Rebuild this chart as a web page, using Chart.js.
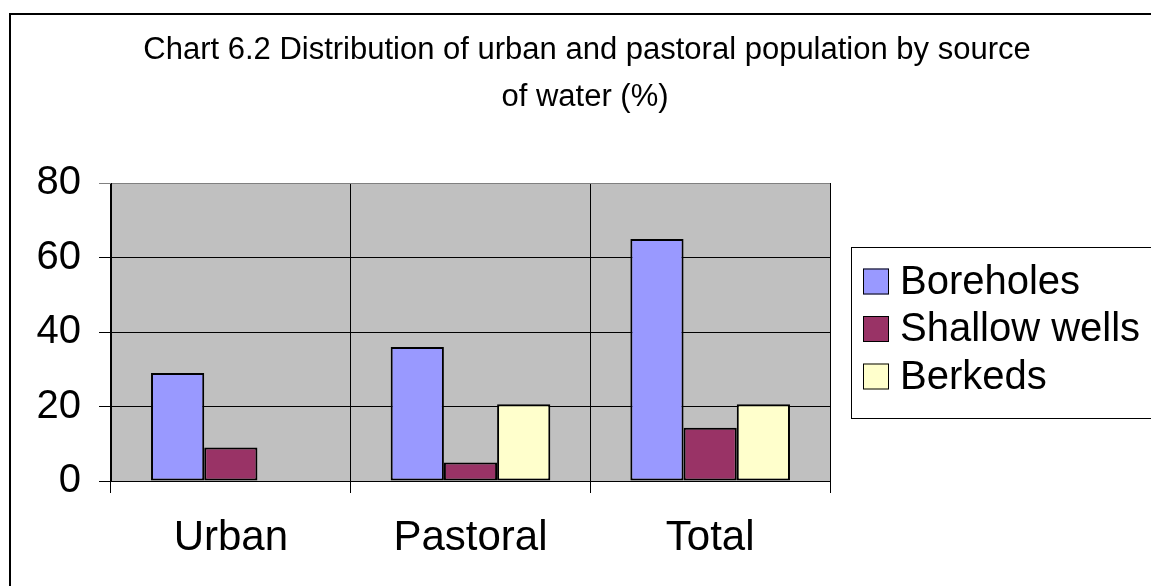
<!DOCTYPE html>
<html>
<head>
<meta charset="utf-8">
<script src="https://cdn.jsdelivr.net/npm/chart.js@4"></script>
<style>
html,body{margin:0;padding:0;background:#fff;}
#wrap{width:1151px;height:586px;position:relative;}
</style>
</head>
<body>
<div id="wrap"><canvas id="c" width="1151" height="586"></canvas></div>
<script>
const titleLines = ['Chart 6.2 Distribution of urban and pastoral population by source', 'of water (%)'];
const categories = ['Urban', 'Pastoral', 'Total'];
const seriesNames = ['Boreholes', 'Shallow wells', 'Berkeds'];
const boreholes = [29, 36, 65];
const shallowWells = [9, 5, 14.3];
const berkeds = [null, 20.6, 20.6];
const yTicks = [0, 20, 40, 60, 80];

const FONT = '"Liberation Sans", Arial, sans-serif';
const colors = ['#9999FF', '#993366', '#FFFFCC'];

const bgPlugin = {
  id: 'bg',
  beforeDraw(chart) {
    const ctx = chart.ctx, a = chart.chartArea;
    ctx.save();
    ctx.fillStyle = '#fff';
    ctx.fillRect(0, 0, chart.width, chart.height);
    ctx.fillStyle = '#C0C0C0';
    ctx.fillRect(a.left, a.top, a.right - a.left, a.bottom - a.top);
    ctx.strokeStyle = '#000';
    ctx.lineWidth = 2;
    ctx.strokeRect(10, 14, chart.width + 20, chart.height + 20);
    ctx.restore();
  },
  afterDraw(chart) {
    const ctx = chart.ctx;
    ctx.save();
    ctx.fillStyle = '#000';
    ctx.font = '31px ' + FONT;
    ctx.textAlign = 'center';
    ctx.textBaseline = 'middle';
    ctx.fillText(titleLines[0], 587, 50);
    ctx.fillText(titleLines[1], 585, 97);
    const lx = 851, ly = 247, lw = 320, lh = 171;
    ctx.strokeStyle = '#000';
    ctx.lineWidth = 1;
    ctx.strokeRect(lx + 0.5, ly + 0.5, lw, lh);
    ctx.font = '40px ' + FONT;
    ctx.textAlign = 'left';
    const rows = [281.5, 329, 376.5];
    chart.data.datasets.forEach((ds, i) => {
      const cy = rows[i];
      ctx.fillStyle = ds.backgroundColor;
      ctx.fillRect(863, cy - 13, 26, 26);
      ctx.strokeStyle = '#000';
      ctx.lineWidth = 1;
      ctx.strokeRect(863.5, cy - 12.5, 25, 25);
      ctx.fillStyle = '#000';
      ctx.fillText(ds.label, 900, cy + 1);
    });
    ctx.restore();
  }
};

new Chart(document.getElementById('c'), {
  type: 'bar',
  data: {
    labels: categories,
    datasets: [
      { label: seriesNames[0], data: boreholes, backgroundColor: colors[0] },
      { label: seriesNames[1], data: shallowWells, backgroundColor: colors[1] },
      { label: seriesNames[2], data: berkeds, backgroundColor: colors[2] }
    ]
  },
  options: {
    responsive: false,
    animation: false,
    devicePixelRatio: 1,
    layout: { padding: { left: 0, top: 183, right: 321, bottom: 0 } },
    datasets: {
      bar: {
        categoryPercentage: 0.666,
        barPercentage: 1.0,
        borderColor: '#000',
        borderWidth: 2,
        borderSkipped: false
      }
    },
    plugins: {
      legend: { display: false },
      title: { display: false },
      tooltip: { enabled: false }
    },
    scales: {
      x: {
        grid: {
          offset: true,
          color: (c) => c.index === categories.length ? '#808080' : '#000',
          lineWidth: 1,
          tickLength: 12,
          drawTicks: true
        },
        border: { color: '#000', width: 1 },
        ticks: { color: '#000', font: { family: FONT, size: 42 }, padding: 20, maxRotation: 0 },
        afterFit(s) { s.height = 105; }
      },
      y: {
        min: 0, max: 80,
        afterBuildTicks(s) { s.ticks = yTicks.map(v => ({ value: v })); },
        grid: {
          color: (c) => c.tick && c.tick.value === 80 ? '#808080' : '#000',
          lineWidth: 1,
          tickLength: 12
        },
        border: { color: '#000', width: 1 },
        ticks: { color: '#000', font: { family: FONT, size: 40 }, padding: 18 },
        afterFit(s) { s.width = 111; }
      }
    }
  },
  plugins: [bgPlugin]
});
</script>
</body>
</html>
